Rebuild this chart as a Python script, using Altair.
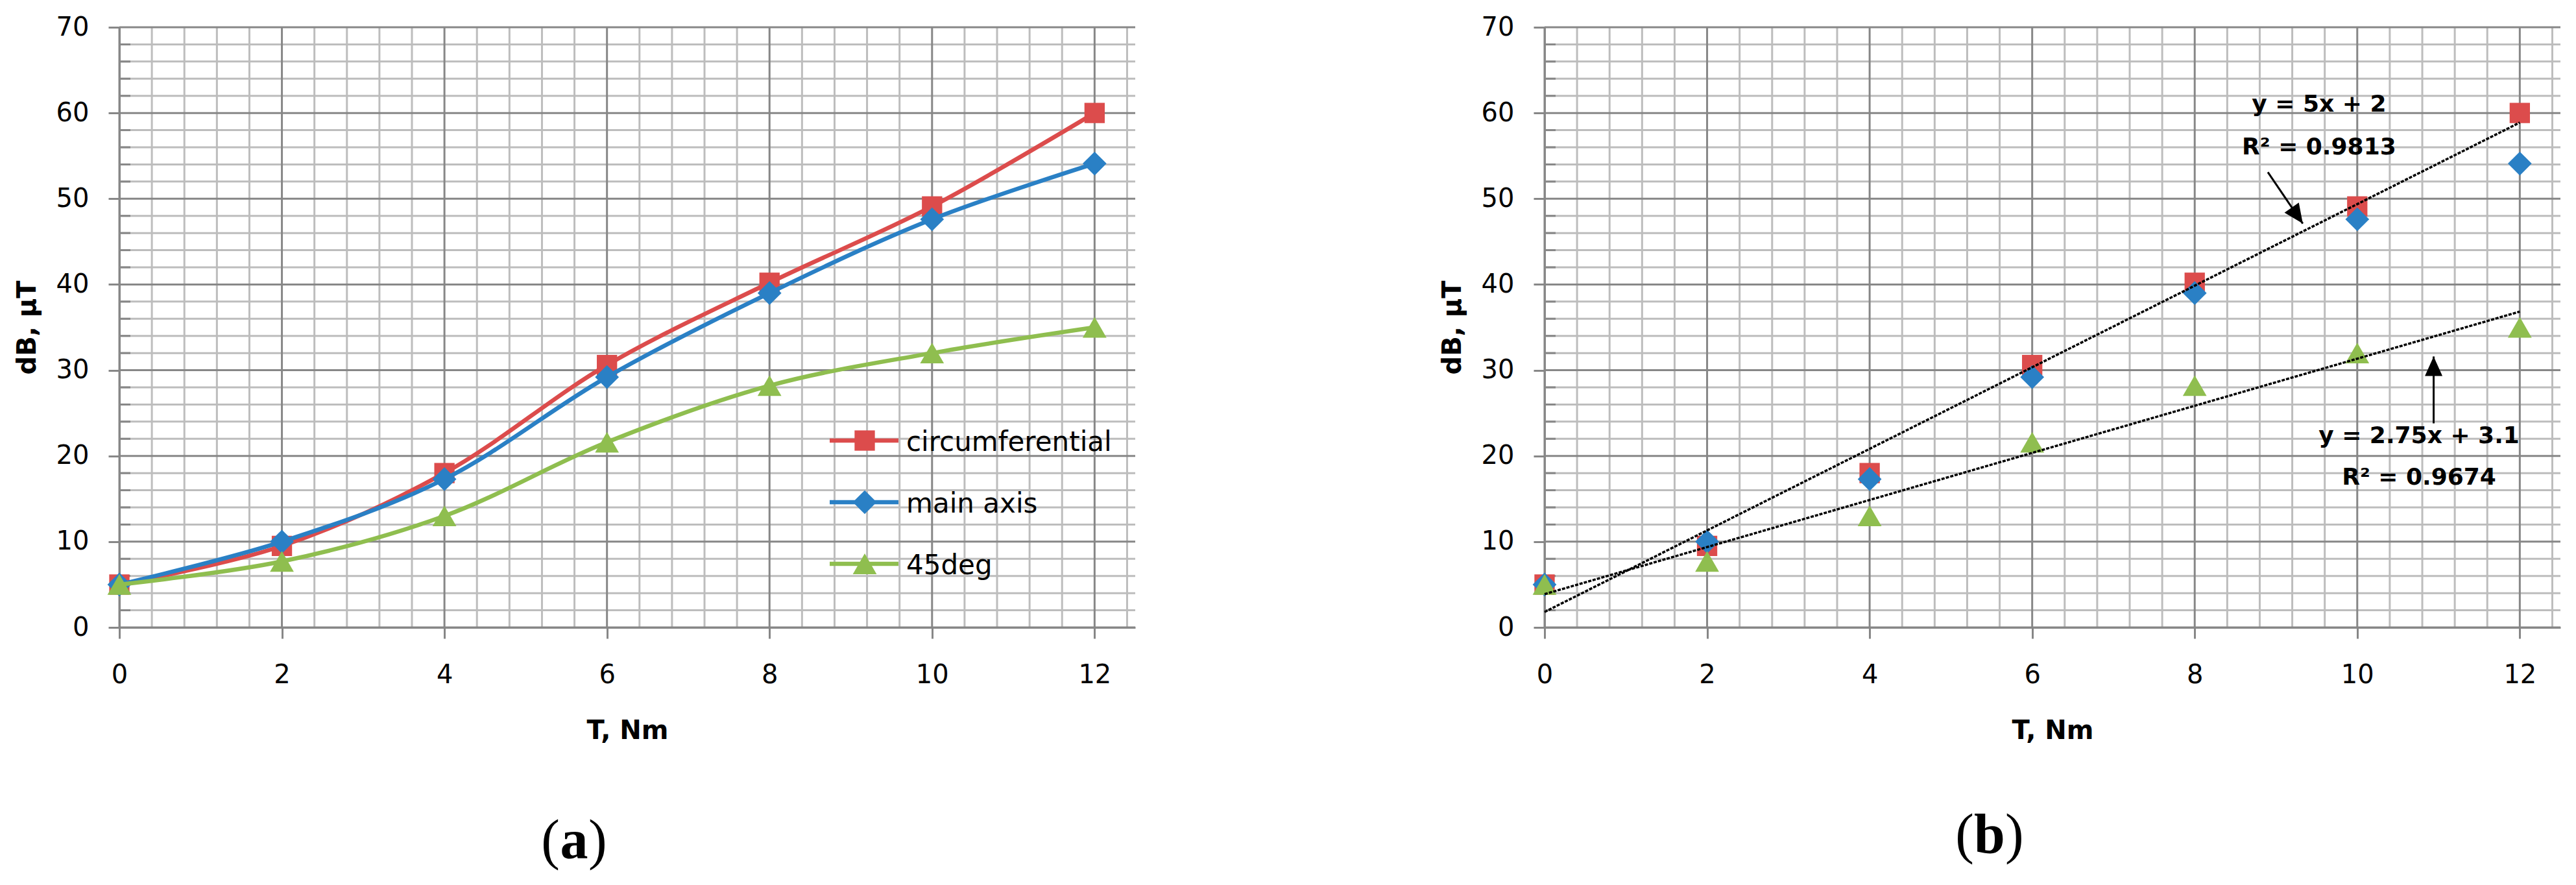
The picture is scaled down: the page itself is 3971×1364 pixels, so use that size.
import altair as alt
import pandas as pd

# ---------------- data ----------------
T = [0, 2, 4, 6, 8, 10, 12]
circumferential = [5.0, 9.5, 18.0, 30.6, 40.2, 49.1, 60.0]
main_axis = [5.0, 10.0, 17.3, 29.2, 39.0, 47.6, 54.1]
deg45 = [5.0, 7.7, 13.0, 21.6, 28.2, 32.0, 35.0]

series_names = ["circumferential", "main axis", "45deg"]
series_colors = ["#DC4C4C", "#2A80C5", "#8FBE4F"]
series_shapes = ["square", "diamond", "triangle-up"]
series_sizes = [980, 1350, 1350]

x_ticks = [0, 2, 4, 6, 8, 10, 12]
y_ticks = [0, 10, 20, 30, 40, 50, 60, 70]
x_minor = [round(0.4 * i, 1) for i in range(1, 32) if i % 5]
y_minor = [v for v in range(2, 70, 2) if v % 10]

trend_series = ["circumferential", "45deg"]
eq_text = ["y = 5x + 2", "R\u00b2 = 0.9813", "y = 2.75x + 3.1", "R\u00b2 = 0.9674"]
eq_T = [9.53, 9.53, 10.76, 10.76]
eq_dB = [61.0, 56.0, 22.3, 17.5]

arrow_T = [8.90, 10.94]
arrow_dB = [53.1, 23.8]
arrow_T2 = [9.33, 10.94]
arrow_dB2 = [47.1, 31.6]
arrow_angle = [145, 0]

panel_letters = ["a", "b"]

# ---------------- tables ----------------
df = pd.DataFrame({
    "T": T * 3,
    "dB": circumferential + main_axis + deg45,
    "series": [n for n in series_names for _ in T],
})
eq_df = pd.DataFrame({"T": eq_T, "dB": eq_dB, "label": eq_text})
arrows_df = pd.DataFrame({"T": arrow_T, "dB": arrow_dB, "T2": arrow_T2,
                          "dB2": arrow_dB2, "ang": arrow_angle})
dummy = pd.DataFrame({"k": [0]})

# ---------------- style ----------------
W, H = 1566, 925
MAJOR = "#878787"
MINOR = "#BDBDBD"
FONT = "DejaVu Sans"
SERIF = "Liberation Serif"

xs = alt.Scale(domain=[0, 12.5], nice=False, zero=False)
ys = alt.Scale(domain=[0, 70], nice=False, zero=False)

x_axis = alt.Axis(values=x_ticks, format="d", title="T, Nm", grid=False,
                  domainColor=MAJOR, domainWidth=3, tickColor=MAJOR, tickWidth=3,
                  tickSize=17, labelFont=FONT, labelFontSize=40, labelColor="black",
                  labelPadding=36, labelFlush=False, labelOverlap=False,
                  titleFont=FONT, titleFontSize=40, titleFontWeight="bold",
                  titleColor="black", titlePadding=46)
y_axis = alt.Axis(values=y_ticks, format="d", title="dB, \u03bcT", grid=False,
                  domainColor=MAJOR, domainWidth=3, tickColor=MAJOR, tickWidth=3,
                  tickSize=17, labelFont=FONT, labelFontSize=40, labelColor="black",
                  labelPadding=30, labelFlush=False, labelOverlap=False,
                  titleFont=FONT, titleFontSize=40, titleFontWeight="bold",
                  titleColor="black", titlePadding=24)


def X(field="T"):
    return alt.X(f"{field}:Q", scale=xs, axis=x_axis)


def Y(field="dB"):
    return alt.Y(f"{field}:Q", scale=ys, axis=y_axis)


def grid_layers():
    vmin = alt.Chart(pd.DataFrame({"T": x_minor})).mark_rule(
        color=MINOR, strokeWidth=3).encode(x=X(), y=alt.value(0), y2=alt.value(H))
    hmin = alt.Chart(pd.DataFrame({"dB": y_minor})).mark_rule(
        color=MINOR, strokeWidth=3).encode(y=Y(), x=alt.value(0), x2=alt.value(W))
    vmaj = alt.Chart(pd.DataFrame({"T": x_ticks})).mark_rule(
        color=MAJOR, strokeWidth=3).encode(x=X(), y=alt.value(0), y2=alt.value(H))
    hmaj = alt.Chart(pd.DataFrame({"dB": y_ticks})).mark_rule(
        color=MAJOR, strokeWidth=3).encode(y=Y(), x=alt.value(0), x2=alt.value(W))
    mtick = alt.Chart(pd.DataFrame({"dB": y_minor})).mark_rule(
        color=MAJOR, strokeWidth=3).encode(y=Y(), x=alt.value(0), x2=alt.value(17))
    return [vmin, hmin, vmaj, hmaj, mtick]


def caption(letter, cx, by, half):
    common = dict(font=SERIF, fontSize=86, color="black", baseline="alphabetic")
    lp = alt.Chart(dummy).mark_text(text="(", align="right", **common).encode(
        x=alt.value(cx - half), y=alt.value(by))
    mid = alt.Chart(dummy).mark_text(text=letter, align="center", fontWeight="bold",
                                     **common).encode(x=alt.value(cx), y=alt.value(by))
    rp = alt.Chart(dummy).mark_text(text=")", align="left", **common).encode(
        x=alt.value(cx + half), y=alt.value(by))
    return [lp, mid, rp]


def points(name, color, shape, size):
    return alt.Chart(df).transform_filter(alt.datum.series == name).mark_point(
        shape=shape, size=size, filled=True, color=color, opacity=1, strokeWidth=0
    ).encode(x=X(), y=Y())


# ---------------- panel (a) ----------------
left_layers = grid_layers()
for name, c, s, sz in zip(series_names, series_colors, series_shapes, series_sizes):
    left_layers.append(
        alt.Chart(df).transform_filter(alt.datum.series == name).mark_line(
            color=c, strokeWidth=6.5, interpolate="catmull-rom").encode(x=X(), y=Y()))
    left_layers.append(points(name, c, s, sz))

legend_y = [637, 732, 827]
for name, c, s, sz, ly in zip(series_names, series_colors, series_shapes,
                              series_sizes, legend_y):
    left_layers.append(alt.Chart(dummy).mark_rule(color=c, strokeWidth=6.5).encode(
        x=alt.value(1095), x2=alt.value(1201), y=alt.value(ly)))
    left_layers.append(alt.Chart(dummy).mark_point(
        shape=s, size=sz, filled=True, color=c, opacity=1, strokeWidth=0).encode(
        x=alt.value(1149), y=alt.value(ly)))
    left_layers.append(alt.Chart(dummy).mark_text(
        text=name, align="left", baseline="middle", font=FONT, fontSize=42,
        color="black").encode(x=alt.value(1213), y=alt.value(ly + 3)))

left_layers += caption(panel_letters[0], 701, 1281, 22)
left = alt.layer(*left_layers).properties(width=W, height=H)

# ---------------- panel (b) ----------------
right_layers = grid_layers()
for name, c, s, sz in zip(series_names, series_colors, series_shapes, series_sizes):
    right_layers.append(points(name, c, s, sz))

for name in trend_series:
    right_layers.append(
        alt.Chart(df).transform_filter(alt.datum.series == name)
        .transform_regression("T", "dB", extent=[0, 12])
        .mark_line(color="black", strokeWidth=3.5, strokeDash=[5, 2])
        .encode(x=X(), y=Y()))

right_layers.append(alt.Chart(arrows_df).mark_rule(color="black", strokeWidth=3).encode(
    x=X(), y=Y(), x2=alt.X2("T2:Q"), y2=alt.Y2("dB2:Q")))
right_layers.append(alt.Chart(arrows_df).mark_point(
    shape="M0,0L0.45,1L-0.45,1Z", size=3600, filled=True, color="black",
    opacity=1, strokeWidth=0).encode(
    x=X("T2"), y=Y("dB2"), angle=alt.Angle("ang:Q", scale=None)))

right_layers.append(alt.Chart(eq_df).mark_text(
    font=FONT, fontSize=36, fontWeight="bold", color="black",
    align="center", baseline="middle").encode(x=X(), y=Y(), text="label:N"))

right_layers += caption(panel_letters[1], 686, 1272, 24)
right = alt.layer(*right_layers).properties(width=W, height=H)

chart = alt.hconcat(left, right, spacing=467).properties(
    padding={"left": 14, "top": 14, "right": 0, "bottom": 5},
    background="white",
).configure_view(stroke=None)

chart.save("out.html", embed_options={"renderer": "svg", "actions": False})
